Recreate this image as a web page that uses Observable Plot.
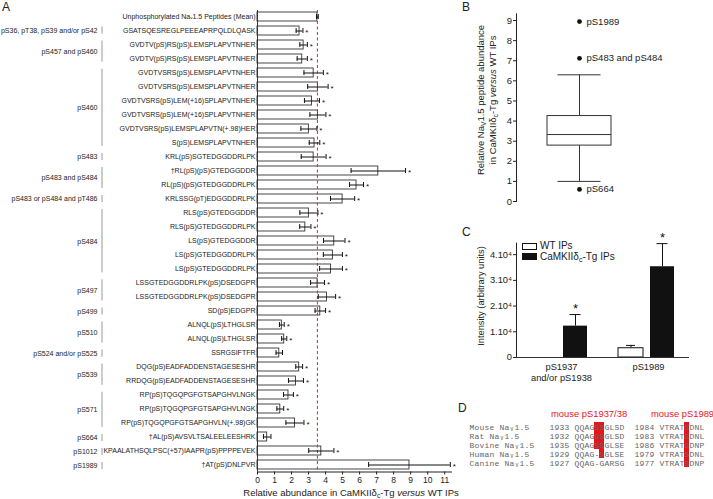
<!DOCTYPE html>
<html><head><meta charset="utf-8">
<script src="https://cdn.jsdelivr.net/npm/d3@7"></script>
<script src="https://cdn.jsdelivr.net/npm/@observablehq/plot@0.6"></script>
<style>
body{margin:0;background:#fff;}
#fig{position:relative;width:713px;height:499px;overflow:hidden;font-family:'Liberation Sans',Arial,sans-serif;color:#222;}
.abs{position:absolute;white-space:nowrap;}
.letter{font-size:12px;}
.rot{transform:translate(-50%,-50%) rotate(-90deg);text-align:center;}
svg{display:block;}
sub{font-size:0.7em;vertical-align:-0.25em;line-height:0;}
</style></head><body><div id="fig"></div>
<script>
// ---------- Panel A data ----------
const peptides = [
 "Unphosphorylated Naᵥ1.5 Peptides (Mean)",
 "GSATSQESREGLPEEEAPRPQLDLQASK",
 "GVDTV(pS)RS(pS)LEMSPLAPVTNHER",
 "GVDTV(pS)RS(pS)LEMSPLAPVTNHER",
 "GVDTVSRS(pS)LEMSPLAPVTNHER",
 "GVDTVSRS(pS)LEMSPLAPVTNHER",
 "GVDTVSRS(pS)LEM(+16)SPLAPVTNHER",
 "GVDTVSRS(pS)LEM(+16)SPLAPVTNHER",
 "GVDTVSRS(pS)LEMSPLAPVTN(+.98)HER",
 "S(pS)LEMSPLAPVTNHER",
 "KRL(pS)SGTEDGGDDRLPK",
 "†RL(pS)(pS)GTEDGGDDR",
 "RL(pS)(pS)GTEDGGDDRLPK",
 "KRLSSG(pT)EDGGDDRLPK",
 "RLS(pS)GTEDGGDDR",
 "RLS(pS)GTEDGGDDRLPK",
 "LS(pS)GTEDGGDDR",
 "LS(pS)GTEDGGDDRLPK",
 "LS(pS)GTEDGGDDRLPK",
 "LSSGTEDGGDDRLPK(pS)DSEDGPR",
 "LSSGTEDGGDDRLPK(pS)DSEDGPR",
 "SD(pS)EDGPR",
 "ALNQL(pS)LTHGLSR",
 "ALNQL(pS)LTHGLSR",
 "SSRGSIFTFR",
 "DQG(pS)EADFADDENSTAGESESHR",
 "RRDQG(pS)EADFADDENSTAGESESHR",
 "RP(pS)TQGQPGFGTSAPGHVLNGK",
 "RP(pS)TQGQPGFGTSAPGHVLNGK",
 "RP(pS)TQGQPGFGTSAPGHVLN(+.98)GK",
 "†AL(pS)AVSVLTSALEELEESHRK",
 "KPAALATHSQLPSC(+57)IAAPR(pS)PPPPEVEK",
 "†AT(pS)DNLPVR"
];
const abundance = [3.52, 2.47, 2.71, 2.63, 3.30, 3.55, 3.20, 3.55, 3.02, 3.35, 3.30, 7.10, 5.82, 5.00, 3.02, 2.81, 4.51, 4.43, 4.32, 3.53, 4.08, 3.69, 1.43, 1.57, 1.28, 2.45, 2.26, 1.82, 1.34, 2.20, 0.57, 3.75, 8.93];
const sem = [0.05, 0.20, 0.22, 0.30, 0.57, 0.60, 0.44, 0.47, 0.47, 0.31, 0.73, 1.60, 0.41, 0.71, 0.53, 0.33, 0.63, 0.56, 0.67, 0.41, 0.51, 0.31, 0.14, 0.15, 0.19, 0.20, 0.44, 0.29, 0.20, 0.53, 0.22, 0.74, 2.40];
const significant = [0,1,1,1,1,1,1,1,1,1,1,1,1,1,1,1,1,1,1,1,1,1,1,1,0,1,1,1,1,1,0,1,1];
const unphosMean = 3.52;
const xTicksA = [0,1,2,3,4,5,6,7,8,9,10,11];
const siteLabels = ["pS36, pT38, pS39 and/or pS42","pS457 and pS460","pS460","pS483","pS483 and pS484","pS483 or pS484 and pT486","pS484","pS497","pS499","pS510","pS524 and/or pS525","pS539","pS571","pS664","pS1012","pS1989"];
const siteFirst = [1,2,4,10,11,13,14,19,21,22,24,25,27,30,31,32];
const siteLast  = [1,3,9,10,12,13,18,20,21,23,24,26,29,30,31,32];

// ---------- Panel B data ----------
const boxQuantiles = [1.0, 2.78, 3.33, 4.25, 6.3]; // lower whisker, Q1, median, Q3, upper whisker
const outlierSites = ["pS1989", "pS483 and pS484", "pS664"];
const outlierValues = [8.95, 7.12, 0.6];
const yTicksB = [0,1,2,3,4,5,6,7,8,9];

// ---------- Panel C data ----------
const sitesC = ["pS1937\nand/or pS1938", "pS1989"];
const wtMean = [0, 3600];
const wtErr = [0, 1100];
const tgMean = [12200, 35300];
const tgErr = [4500, 9000];
const tgStar = [1, 1];
const yTicksC = [0, 10000, 20000, 30000, 40000];

// ---------- Panel D data ----------
const species = ["Mouse Naᵥ1.5", "Rat Naᵥ1.5", "Bovine Naᵥ1.5", "Human Naᵥ1.5", "Canine Naᵥ1.5"];
const startA = [1933, 1932, 1935, 1929, 1927];
const seqA = ["QQAGSSGLSD", "QQAGGSGLSD", "QQAGSSGLSE", "QQAG-SGLSE", "QQAG-GARSG"];
const startB = [1984, 1983, 1986, 1979, 1977];
const seqB = ["VTRATSDNL", "VTRATSDNL", "VTRATSDNP", "VTRATSDNL", "VTRATSDNP"];
const highlightA = [[4,5],[4,5],[4,5],[5],[]];
const highlightB = [[5],[5],[5],[5],[5]];

const FONT = "'Liberation Sans', Arial, sans-serif";
const fig = document.getElementById("fig");
function place(el, left, top) { el.style.position = "absolute"; el.style.left = left + "px"; el.style.top = top + "px"; fig.appendChild(el); return el; }
function html(h, left, top, cls, style) { const d = document.createElement("div"); d.className = "abs " + (cls||""); d.innerHTML = h; if (style) d.style.cssText += style; return place(d, left, top); }

// ================= Panel A =================
const rows = d3.range(peptides.length);
const PI = 0.35, PO = 0.1;            // band paddings of the peptide axis
const A_TOP = 10, A_BOTTOM = 27.5, A_H = 499;
const A = Plot.plot({
  width: 460, height: A_H,
  marginLeft: 257, marginRight: 9, marginTop: A_TOP, marginBottom: A_BOTTOM,
  style: {fontFamily: FONT, fontSize: "7px", color: "#222", background: "transparent", overflow: "visible"},
  x: {domain: [0, 11.4], ticks: xTicksA, tickSize: 3, tickPadding: 2, line: true, label: null, tickFormat: d => String(d)},
  y: {domain: rows, paddingInner: PI, paddingOuter: PO, tickSize: 0, tickPadding: 2, tickFormat: i => peptides[i], label: null},
  marks: [
    Plot.barX(rows, {x: i => abundance[i], y: i => i, fill: "white", stroke: "#333", strokeWidth: 0.9}),
    Plot.ruleX([unphosMean], {stroke: "#e0231c", strokeDasharray: "3,2.5", strokeWidth: 1}),
    Plot.ruleY(rows, {y: i => i, x1: i => abundance[i] - sem[i], x2: i => abundance[i] + sem[i], stroke: "#111"}),
    Plot.tickX(rows, {y: i => i, x: i => abundance[i] - sem[i], insetTop: 2, insetBottom: 2, stroke: "#111"}),
    Plot.tickX(rows, {y: i => i, x: i => abundance[i] + sem[i], insetTop: 2, insetBottom: 2, stroke: "#111"}),
    Plot.text(rows.filter(i => significant[i]), {y: i => i, x: i => abundance[i] + sem[i], text: () => "*", dx: 4, dy: 1.5, fontSize: 8, fill: "#111"}),
    Plot.ruleX([0], {stroke: "#333"})
  ]
});
place(A, 0, 0);
d3.select(A).selectAll('[aria-label^="x-axis"] text').style("font-size", "8.5px");

// site group labels: a companion Plot sharing the same row geometry (row index on a linear scale)
const half = (1 - PI) / 2, edge = PO + half;
const groups = siteLabels.map((s, k) => ({site: s, first: siteFirst[k], last: siteLast[k], mid: (siteFirst[k] + siteLast[k]) / 2}));
const G = Plot.plot({
  width: 106, height: A_H, marginLeft: 0, marginRight: 4.5, marginTop: A_TOP, marginBottom: A_BOTTOM,
  style: {fontFamily: FONT, fontSize: "7px", color: "#222", background: "transparent", overflow: "visible"},
  x: {domain: [0, 1], axis: null},
  y: {domain: [-edge, rows.length - 1 + edge], reverse: true, axis: null},
  marks: [
    Plot.ruleX(groups, {x: () => 1, y1: d => d.first - half, y2: d => d.last + half, insetTop: 1, insetBottom: 1, stroke: "#9a9a9a"}),
    Plot.text(groups, {x: () => 1, y: "mid", text: "site", textAnchor: "end", dx: -4.5, fill: "#222"})
  ]
});
place(G, 0, 0);
html("A", 2, 0, "letter");
html("Relative abundance in CaMKIIδ<sub>c</sub>-Tg <i>versus</i> WT IPs", 240, 487, "", "width:222px;text-align:center;font-size:9.5px;");

// ================= Panel B =================
const boxRow = [{name: "all", low: boxQuantiles[0], q1: boxQuantiles[1], median: boxQuantiles[2], q3: boxQuantiles[3], high: boxQuantiles[4]}];
const outliers = outlierSites.map((s, k) => ({name: "all", site: s, value: outlierValues[k]}));
const B = Plot.plot({
  width: 258, height: 225, marginLeft: 61, marginRight: 71, marginTop: 13.4, marginBottom: 24,
  style: {fontFamily: FONT, fontSize: "9.5px", color: "#222", background: "transparent", overflow: "visible"},
  x: {domain: ["all"], padding: 0.326, axis: null},
  y: {domain: [0, 9.33], ticks: yTicksB, tickSize: 3, tickPadding: 1.5, line: true, label: null},
  marks: [
    Plot.ruleX(boxRow, {x: "name", y1: "low", y2: "q1", stroke: "#333"}),
    Plot.ruleX(boxRow, {x: "name", y1: "q3", y2: "high", stroke: "#333"}),
    Plot.tickY(boxRow, {x: "name", y: "low", insetLeft: 10.5, insetRight: 10.5, stroke: "#333"}),
    Plot.tickY(boxRow, {x: "name", y: "high", insetLeft: 10.5, insetRight: 10.5, stroke: "#333"}),
    Plot.barY(boxRow, {x: "name", y1: "q1", y2: "q3", fill: "white", stroke: "#333"}),
    Plot.tickY(boxRow, {x: "name", y: "median", stroke: "#333"}),
    Plot.dot(outliers, {x: "name", y: "value", r: 2.4, fill: "#111", stroke: "none"}),
    Plot.text(outliers, {x: "name", y: "value", text: "site", dx: 7, textAnchor: "start", fontSize: 9.5, fill: "#222"})
  ]
});
place(B, 455, 0);
html("B", 462, 0, "letter");
html("Relative Na<sub>V</sub>1.5 peptide abundance<br>in CaMKIIδ<sub>c</sub>-Tg <i>versus</i> WT IPs", 487, 100, "rot", "font-size:9.5px;line-height:12px;");

// ================= Panel C =================
const cData = sitesC.flatMap((s, k) => [
  {site: s, group: "WT", mean: wtMean[k], hi: wtMean[k] + wtErr[k], star: 0},
  {site: s, group: "Tg", mean: tgMean[k], hi: tgMean[k] + tgErr[k], star: tgStar[k]}
]).filter(d => d.mean > 0);
const wt = cData.filter(d => d.group === "WT"), tg = cData.filter(d => d.group === "Tg");
const C = Plot.plot({
  width: 258, height: 165, marginLeft: 61, marginRight: 24, marginTop: 7.6, marginBottom: 43,
  style: {fontFamily: FONT, fontSize: "9.3px", color: "#222", background: "transparent", overflow: "visible"},
  x: {domain: sitesC, paddingInner: 0.148, paddingOuter: 0.057, axis: null},
  y: {domain: [0, 44500], ticks: yTicksC, tickSize: 3, tickPadding: 1.5, line: true, label: null,
      tickFormat: d => d === 0 ? "0" : `${d / 10000}.10⁴`},
  marks: [
    Plot.ruleX(wt, {x: "site", y1: "mean", y2: "hi", dx: -15.5, stroke: "#111"}),
    Plot.tickY(wt, {x: "site", y: "hi", insetLeft: 17, insetRight: 48, stroke: "#111"}),
    Plot.ruleX(tg, {x: "site", y1: "mean", y2: "hi", dx: 16, stroke: "#111"}),
    Plot.tickY(tg, {x: "site", y: "hi", insetLeft: 47.5, insetRight: 15.5, stroke: "#111"}),
    Plot.barY(wt, {x: "site", y: "mean", fill: "white", stroke: "#111", insetLeft: 9, insetRight: 40}),
    Plot.barY(tg, {x: "site", y: "mean", fill: "#111", insetLeft: 41, insetRight: 9}),
    Plot.text(tg.filter(d => d.star), {x: "site", y: "hi", text: () => "*", dx: 16, dy: -6, fontSize: 13, fill: "#111"}),
    Plot.ruleY([0], {stroke: "#333"}),
    Plot.text(sitesC, {x: d => d, text: d => d, frameAnchor: "bottom", lineAnchor: "top", dy: 5, dx: 2, fontSize: 9.3, lineHeight: 1.18, fill: "#222"})
  ]
});
place(C, 455, 235);
html("C", 462, 225, "letter");
html("Intensity (arbitrary units)", 481, 296, "rot", "font-size:9.3px;");
html("", 522, 242.5, "", "width:13px;height:5px;border:1px solid #111;background:#fff;");
html("", 522, 253, "", "width:15px;height:7px;background:#111;");
html("WT IPs", 540, 239.5, "", "font-size:10px;");
html("CaMKIIδ<sub>c</sub>-Tg IPs", 540, 250.5, "", "font-size:10px;");

// ================= Panel D =================
const lines = species.map((s, k) => s.padEnd(16) + startA[k] + " " + seqA[k] + "  " + startB[k] + " " + seqB[k]);
const nCols = d3.max(lines, l => Array.from(l).length);
const chars = lines.flatMap((ln, k) => Array.from(ln).map((ch, c) => ({species: species[k], c, ch}))).filter(d => d.ch !== " ");
const hl = species.flatMap((s, k) => [...highlightA[k].map(i => ({species: s, c: 21 + i})), ...highlightB[k].map(i => ({species: s, c: 38 + i}))]);
const D = Plot.plot({
  width: 258, height: 52, marginLeft: 9, marginRight: 258 - 9 - nCols * 5.2, marginTop: 3, marginBottom: 2.5,
  style: {fontFamily: "'Liberation Mono', 'DejaVu Sans Mono', monospace", fontSize: "8px", background: "transparent", overflow: "visible"},
  x: {domain: d3.range(nCols), padding: 0, axis: null},
  y: {domain: species, padding: 0, axis: null},
  marks: [
    Plot.cell(hl, {x: "c", y: "species", fill: "#e8141c", inset: 0}),
    Plot.text(chars, {x: "c", y: "species", text: "ch", fill: "#666"})
  ]
});
place(D, 455, 418);
html("D", 458, 401, "letter");
html("mouse pS1937/38", 551, 408, "", "font-size:9.4px;color:#e8141c;");
html("mouse pS1989", 651, 408, "", "font-size:9.4px;color:#e8141c;");
</script></body></html>
